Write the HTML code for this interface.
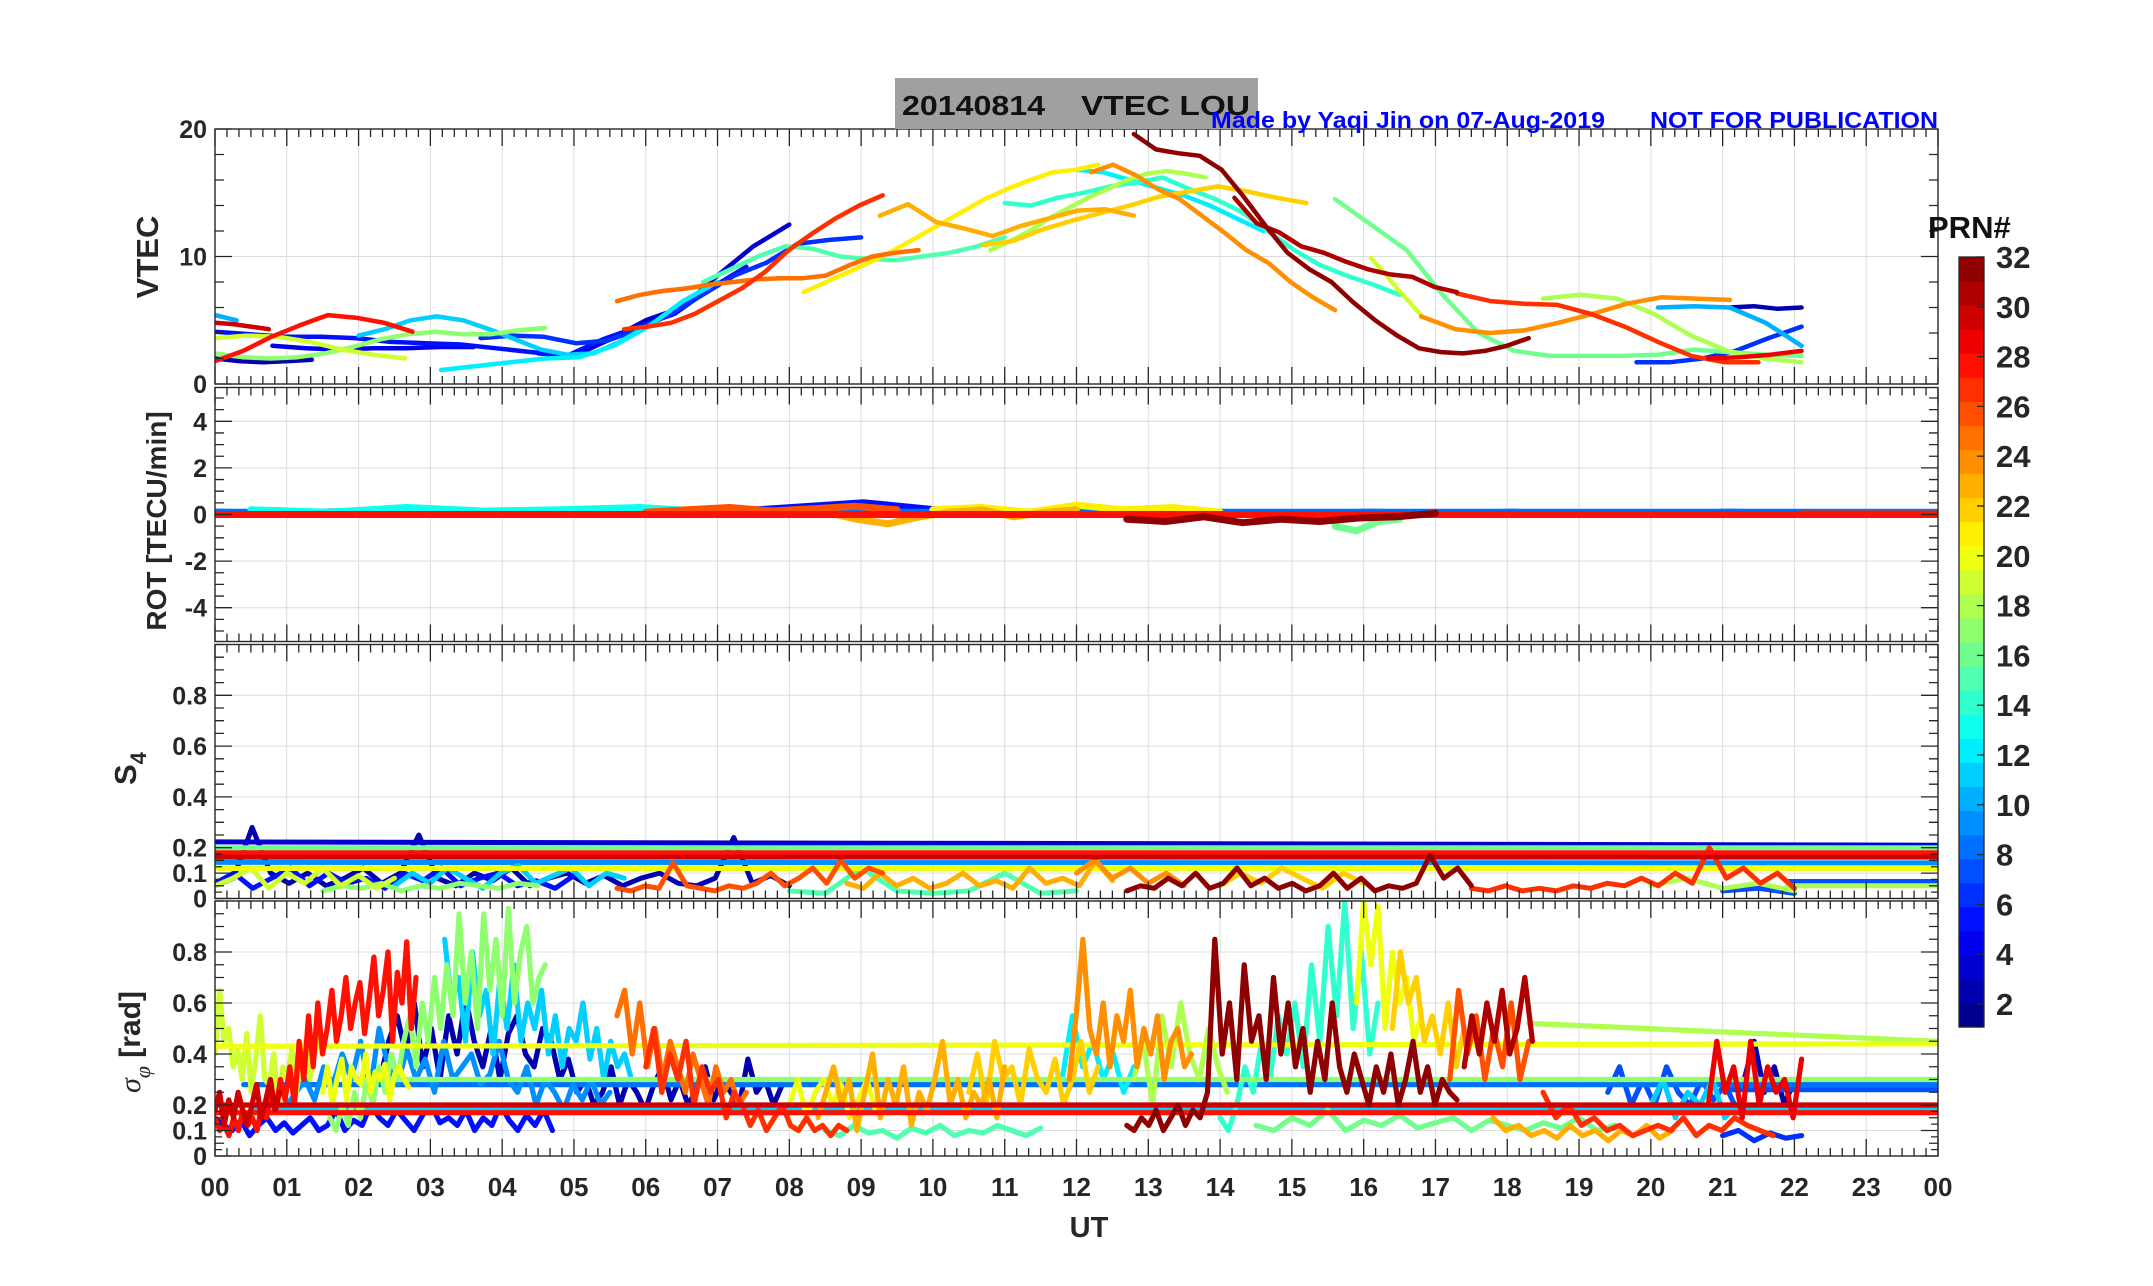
<!DOCTYPE html>
<html><head><meta charset="utf-8"><style>
html,body{margin:0;padding:0;background:#fff;}
svg{display:block;font-family:"Liberation Sans",Arial,sans-serif;}
</style></head><body>
<svg id="chart" width="2153" height="1286" viewBox="0 0 2153 1286" xmlns="http://www.w3.org/2000/svg">
<rect x="0" y="0" width="2153" height="1286" fill="#fff"/>
<g id="grids"></g>
<g id="marks"></g>
<g id="axes"></g>
<rect x="895" y="78" width="363" height="51" fill="#a0a0a0"/>
<text x="902" y="115" font-size="28" font-weight="bold" fill="#111" textLength="143" lengthAdjust="spacingAndGlyphs">20140814</text>
<text x="1081" y="115" font-size="28" font-weight="bold" fill="#111" textLength="169" lengthAdjust="spacingAndGlyphs">VTEC  LOU</text>
<text x="1211" y="128" font-size="23" font-weight="bold" fill="#0000ff" textLength="394" lengthAdjust="spacingAndGlyphs">Made by Yaqi Jin on 07-Aug-2019</text>
<text x="1650" y="128" font-size="23" font-weight="bold" fill="#0000ff" textLength="288" lengthAdjust="spacingAndGlyphs">NOT FOR PUBLICATION</text>
<text transform="translate(158,257) rotate(-90)" text-anchor="middle" font-size="31" font-weight="bold" fill="#262626">VTEC</text>
<text transform="translate(166,521) rotate(-90)" text-anchor="middle" font-size="28" font-weight="bold" fill="#262626">ROT [TECU/min]</text>
<text transform="translate(136,785) rotate(-90)" font-size="31" font-weight="bold" fill="#262626">S<tspan font-size="22" dy="10">4</tspan></text>
<text transform="translate(140,1093) rotate(-90)" font-size="30" fill="#262626"><tspan font-family="Liberation Serif" font-style="italic">σ</tspan><tspan font-family="Liberation Serif" font-style="italic" font-size="22" dy="10">φ</tspan><tspan dy="-10" font-weight="bold"> [rad]</tspan></text>
<text x="1089" y="1237" text-anchor="middle" font-size="29" font-weight="bold" fill="#262626">UT</text>
<text x="1928" y="238" font-size="31" font-weight="bold" fill="#111">PRN#</text>
<g id="cbar"></g>
</svg>
<script>
// ---------------- DATA ----------------
const vtecPrn = [10,30,5,19,28,17,2,11,12,4,6,3,5,27,25,15,21,23,24,12,14,18,22,32,31,27,16,19,24,18,10,2,6,29];
const vtecStart = [0,0,0,0,0,0,0,2.0,3.15,0.8,3.7,4.5,4.9,5.7,5.6,6.8,8.2,9.26,12.2,12.0,11.0,10.8,10.7,12.8,14.2,17.3,15.6,16.1,16.8,18.5,20.1,21.1,19.8,20.8];
const vtecEnd = [0.3,0.75,4.9,2.65,2.75,4.6,1.35,6.0,7.0,3.6,9.0,8.0,7.4,9.3,9.8,11.0,12.3,12.8,15.6,14.6,16.5,13.8,15.2,18.3,17.3,21.5,22.1,16.8,21.1,22.1,22.1,22.1,22.1,22.1];
const vtecVals = [
 [5.4,5.0],
 [4.8,4.7,4.5,4.3],
 [4.1,3.9,3.7,3.7,3.6,3.3,3.2,3.1,2.8,2.5,2.2],
 [3.6,3.8,3.7,3.3,2.7,2.3,2.0],
 [1.8,2.6,3.7,4.6,5.4,5.2,4.8,4.1],
 [2.4,2.1,2.0,2.1,2.4,2.9,3.5,3.9,4.1,3.9,3.9,4.2,4.4],
 [2.0,1.8,1.7,1.8,1.9],
 [3.8,4.3,5.0,5.3,5.0,4.3,3.5,2.7,2.3,2.4,3.3,4.5],
 [1.1,1.4,1.7,2.0,2.1,3.0,4.5,6.5,8.0],
 [3.0,2.8,2.7,2.8,2.8,2.9,2.9],
 [3.6,3.8,3.7,3.2,3.4,4.3,5.5,7.0,8.5,9.5,11.0,11.3,11.5],
 [2.4,2.2,3.5,5.0,6.0,8.5,10.8,12.5],
 [2.2,3.5,4.5,5.5,7.5,9.2],
 [4.3,4.5,4.8,5.5,6.5,7.5,8.8,10.5,11.8,13.0,14.0,14.8],
 [6.5,7.0,7.3,7.5,7.8,8.0,8.2,8.3,8.3,8.5,9.3,10.0,10.3,10.5],
 [8.0,9.0,10.0,10.8,10.6,10.0,9.8,9.7,10.0,10.3,10.8,11.5],
 [7.2,8.0,8.8,9.6,10.5,11.5,12.5,13.5,14.5,15.3,16.0,16.6,16.8,17.2],
 [13.2,14.1,12.7,12.2,11.6,12.4,13.0,13.6,13.7,13.2],
 [16.6,17.2,16.4,15.3,14.5,13.2,11.9,10.5,9.5,8.0,6.8,5.8],
 [16.8,16.6,16.0,15.4,14.8,14.0,13.0,12.0],
 [14.2,14.0,14.6,15.0,15.5,15.8,16.2,15.3,14.5,13.5,12.0,10.5,9.3,8.5,7.8,7.0],
 [10.5,11.2,12.0,13.0,13.8,14.6,15.3,16.0,16.5,16.7,16.5,16.2],
 [10.9,11.2,12.1,12.8,13.4,14.0,14.7,15.1,15.5,15.1,14.6,14.2],
 [19.6,18.4,18.1,17.9,16.8,14.7,12.4,10.3,9.0,8.0,6.4,5.0,3.8,2.8,2.5,2.4,2.6,3.0,3.6],
 [14.6,12.6,11.9,10.8,10.3,9.6,9.0,8.6,8.4,7.6,7.2],
 [7.1,6.5,6.3,6.2,5.5,4.5,3.3,2.2,1.7,1.7],
 [14.5,12.5,10.5,7.0,4.0,2.6,2.2,2.2,2.2,2.3,2.7,2.5,2.3,2.2],
 [9.9,8.8,7.6,6.5,5.4],
 [5.3,4.3,4.0,4.2,4.8,5.5,6.3,6.8,6.7,6.6],
 [6.7,7.0,6.7,5.5,3.8,2.6,2.0,1.7],
 [6.0,6.1,6.0,4.8,3.0],
 [6.0,6.1,5.9,6.0],
 [1.7,1.7,2.0,2.6,3.6,4.5],
 [2.0,2.1,2.3,2.6]
];
const rotPrn = [28,8,27,5,26,23,21,32,16,13];
const rotStart = [0,0,22.1,0,6.0,8.5,10.0,12.7,15.6,0.5];
const rotEnd = [24,24,24,22.1,9.5,12.0,14.0,17.0,16.5,7.0];
const rotVals = [
 [0,0],
 [0.1,0.1],
 [0.02,0.02],
 [0.1,0.05,0.15,0.0,0.1,0.05,0.2,0.1,0.3,0.5,0.2,0.1,0.05,0.1,0.0,0.05,0.1,0.05,0.1,0.0,0.05,0.1,0.05],
 [0.1,0.2,0.3,0.15,0.25,0.35,0.2],
 [0.1,-0.2,-0.4,-0.1,0.1,0.2,-0.1,0.1,0.2],
 [0.2,0.3,0.1,0.4,0.2,0.3,0.1],
 [-0.2,-0.3,-0.1,-0.35,-0.2,-0.3,-0.15,-0.1,0.05],
 [-0.5,-0.7,-0.3,-0.2],
 [0.2,0.1,0.3,0.15,0.2,0.3,0.1]
];
const s4Prn = [2,3,5,7,9,11,16,17,18,19,20,22,23,24,26,27,28,30,32,15,7,18];
const s4Start = [0,0,0,21.9,0,2.5,0,1.5,21.9,0,0,14.0,8.8,12.0,5.6,17.5,0,0,12.7,8.0,21.0,20.0];
const s4End = [8,24,5,24,24,5.7,24,4.5,24,2.5,24,16.0,12.5,13.5,9.3,22.0,24,24,17.5,12.0,22.0,22.0];
const s4Vals = [
 [0.05,0.08,0.28,0.1,0.06,0.1,0.05,0.08,0.12,0.06,0.1,0.25,0.08,0.05,0.1,0.07,0.12,0.05,0.08,0.1,0.06,0.09,0.05,0.08,0.1,0.06,0.05,0.08,0.24,0.06,0.09,0.05],
 [0.223,0.21],
 [0.06,0.1,0.04,0.08,0.12,0.05,0.1,0.06,0.08,0.04,0.1,0.07,0.12,0.05,0.08,0.1,0.05,0.07,0.04,0.09],
 [0.067,0.067],
 [0.142,0.14],
 [0.05,0.1,0.06,0.12,0.08,0.04,0.1,0.13,0.06,0.09,0.12,0.05,0.1,0.08],
 [0.2,0.2],
 [0.03,0.05,0.04,0.06,0.03,0.05,0.04,0.06,0.05,0.04,0.06,0.05],
 [0.05,0.05],
 [0.05,0.08,0.12,0.04,0.1,0.06,0.12,0.05,0.09,0.04,0.08],
 [0.118,0.118],
 [0.05,0.1,0.06,0.12,0.08,0.04,0.1,0.06],
 [0.06,0.04,0.1,0.05,0.08,0.04,0.06,0.1,0.05,0.07,0.04,0.12,0.06,0.08,0.05,0.15,0.07],
 [0.1,0.15,0.08,0.12,0.06,0.1,0.05],
 [0.04,0.03,0.05,0.04,0.14,0.05,0.04,0.03,0.05,0.04,0.06,0.1,0.05,0.08,0.12,0.06,0.15,0.08,0.12,0.1],
 [0.04,0.03,0.05,0.03,0.04,0.03,0.05,0.04,0.06,0.05,0.08,0.05,0.1,0.06,0.2,0.08,0.12,0.06,0.1,0.04],
 [0.18,0.18],
 [0.163,0.163],
 [0.03,0.05,0.04,0.08,0.05,0.1,0.04,0.06,0.12,0.05,0.08,0.04,0.06,0.03,0.05,0.1,0.04,0.08,0.03,0.05,0.04,0.06,0.17,0.08,0.12,0.05],
 [0.03,0.02,0.12,0.03,0.02,0.03,0.1,0.02,0.03],
 [0.03,0.04,0.02],
 [0.05,0.08,0.04,0.06,0.03]
];
const sigPrn = [19,20,30,28,5,9,2,11,17,25,27,20,23,15,22,12,24,18,32,14,20,22,26,31,16,23,27,7,11,29,2,6,20,17,8,7,30,28,11,18];
const sigStart = [0,1.5,0,0,0,1.0,2.3,3.2,1.6,5.6,6.0,8.0,8.4,8.5,10.5,11.8,11.9,12.8,12.7,14.0,15.9,16.4,17.2,17.4,14.5,17.8,18.5,19.4,20.0,20.8,21.3,21.0,0,2.0,0.4,21.0,0,0,0.5,18.3];
const sigEnd = [1.45,2.7,0.9,2.8,4.7,5.5,7.9,5.8,4.6,7.4,8.8,9.2,11.0,11.5,12.3,12.8,13.6,14.1,17.3,16.2,16.8,17.4,18.3,18.35,19.5,20.3,21.7,21.2,21.2,22.1,22.0,22.1,24,24,24,24,24,24,24,24];
const sigVals = [
 [0.4,0.65,0.45,0.5,0.35,0.42,0.3,0.48,0.25,0.38,0.55,0.3,0.28,0.4,0.2,0.35,0.3,0.42,0.25,0.38,0.45,0.3,0.4,0.47],
 [0.25,0.35,0.2,0.3,0.38,0.22,0.35,0.3,0.28,0.4,0.25,0.33,0.3,0.36,0.22,0.32,0.35,0.3,0.27],
 [0.18,0.25,0.12,0.22,0.15,0.25,0.18,0.12,0.2,0.28,0.15,0.22,0.3,0.18,0.25],
 [0.15,0.1,0.12,0.08,0.15,0.1,0.18,0.12,0.15,0.1,0.2,0.15,0.25,0.18,0.3,0.22,0.35,0.2,0.45,0.3,0.55,0.35,0.6,0.4,0.5,0.65,0.45,0.55,0.7,0.5,0.6,0.68,0.48,0.62,0.78,0.55,0.65,0.8,0.45,0.72,0.6,0.84,0.5,0.7],
 [0.15,0.12,0.1,0.14,0.08,0.12,0.15,0.1,0.13,0.09,0.12,0.15,0.1,0.12,0.18,0.1,0.14,0.12,0.2,0.15,0.12,0.18,0.14,0.1,0.16,0.2,0.13,0.15,0.12,0.18,0.1,0.15,0.12,0.2,0.14,0.1,0.16,0.12,0.18,0.1],
 [0.2,0.25,0.3,0.22,0.35,0.28,0.4,0.3,0.45,0.25,0.5,0.35,0.28,0.42,0.3,0.38,0.25,0.45,0.3,0.35,0.4,0.28,0.32,0.45,0.3,0.25,0.35,0.2,0.3,0.25,0.18,0.28,0.22,0.3,0.2,0.25],
 [0.3,0.45,0.55,0.4,0.6,0.35,0.5,0.3,0.55,0.4,0.62,0.45,0.35,0.5,0.3,0.48,0.55,0.4,0.35,0.5,0.45,0.3,0.38,0.25,0.3,0.2,0.25,0.35,0.2,0.3,0.25,0.18,0.28,0.35,0.22,0.3,0.2,0.26,0.35,0.22,0.3,0.25,0.2,0.38,0.25,0.3,0.2,0.28],
 [0.85,0.6,0.7,0.45,0.8,0.55,0.65,0.4,0.7,0.5,0.75,0.45,0.6,0.5,0.65,0.4,0.55,0.35,0.5,0.45,0.6,0.38,0.5,0.3,0.45,0.35,0.4,0.3],
 [0.15,0.1,0.2,0.12,0.25,0.15,0.3,0.2,0.35,0.25,0.4,0.3,0.45,0.55,0.35,0.6,0.45,0.7,0.5,0.75,0.55,0.95,0.6,0.8,0.5,0.95,0.65,0.85,0.55,0.97,0.6,0.8,0.9,0.6,0.7,0.75],
 [0.55,0.65,0.4,0.6,0.35,0.5,0.3,0.45,0.35,0.25,0.4,0.3,0.2,0.35,0.25,0.3,0.2,0.25],
 [0.35,0.5,0.25,0.4,0.3,0.45,0.2,0.35,0.25,0.3,0.15,0.25,0.2,0.12,0.18,0.1,0.15,0.2,0.12,0.1,0.15,0.1,0.12,0.08,0.12,0.1],
 [0.2,0.3,0.15,0.25,0.3,0.2,0.28,0.15,0.22,0.3,0.18],
 [0.15,0.25,0.35,0.2,0.3,0.1,0.25,0.4,0.15,0.3,0.2,0.35,0.12,0.25,0.18,0.3,0.45,0.2,0.3,0.15,0.25,0.2,0.3,0.15,0.35],
 [0.1,0.08,0.12,0.09,0.1,0.07,0.11,0.09,0.12,0.08,0.1,0.09,0.12,0.1,0.08,0.11],
 [0.25,0.4,0.2,0.45,0.3,0.35,0.2,0.42,0.3,0.25,0.38,0.2,0.3,0.45,0.25,0.35],
 [0.3,0.55,0.35,0.45,0.3,0.4,0.25,0.35],
 [0.3,0.55,0.85,0.5,0.4,0.6,0.35,0.55,0.45,0.65,0.35,0.5,0.4,0.55,0.3,0.45,0.5,0.35,0.4],
 [0.3,0.45,0.2,0.55,0.35,0.6,0.4,0.3,0.5,0.35,0.25],
 [0.12,0.1,0.15,0.12,0.18,0.1,0.15,0.2,0.12,0.18,0.15,0.25,0.85,0.4,0.6,0.3,0.75,0.45,0.55,0.3,0.7,0.4,0.6,0.35,0.5,0.25,0.45,0.3,0.6,0.35,0.25,0.4,0.3,0.2,0.35,0.25,0.4,0.2,0.3,0.45,0.25,0.35,0.2,0.3,0.25,0.22],
 [0.15,0.1,0.2,0.35,0.25,0.45,0.3,0.55,0.4,0.6,0.35,0.75,0.45,0.9,0.55,1.0,0.5,0.8,0.4,0.6],
 [0.6,1.0,0.75,0.98,0.5,0.8,0.6,0.7,0.45,0.55],
 [0.5,0.8,0.6,0.7,0.45,0.55,0.4,0.6,0.35,0.5],
 [0.3,0.65,0.4,0.55,0.3,0.5,0.35,0.6,0.3,0.45],
 [0.35,0.55,0.4,0.6,0.45,0.65,0.4,0.5,0.7,0.45],
 [0.12,0.1,0.15,0.12,0.18,0.1,0.14,0.12,0.16,0.11,0.13,0.15,0.1,0.14,0.12,0.1,0.13,0.11,0.15,0.1,0.12],
 [0.15,0.1,0.12,0.08,0.1,0.07,0.12,0.08,0.1,0.06,0.1,0.08,0.12,0.07,0.1],
 [0.25,0.15,0.2,0.12,0.15,0.1,0.12,0.08,0.1,0.12,0.1,0.15,0.08,0.12,0.1,0.15,0.12,0.1,0.08],
 [0.25,0.35,0.2,0.3,0.2,0.35,0.25,0.2,0.3,0.22,0.28,0.18],
 [0.2,0.3,0.15,0.25,0.2,0.3,0.15,0.2],
 [0.2,0.45,0.25,0.35,0.15,0.45,0.2,0.35,0.25,0.3,0.15,0.38],
 [0.3,0.45,0.25,0.35,0.2,0.3],
 [0.08,0.1,0.06,0.09,0.07,0.08],
 [0.43,0.44],
 [0.3,0.3],
 [0.28,0.28],
 [0.26,0.26],
 [0.2,0.2],
 [0.17,0.17],
 [0.18,0.18],
 [0.52,0.45]
];
const xTickLabels = ["00","01","02","03","04","05","06","07","08","09","10","11","12","13","14","15","16","17","18","19","20","21","22","23","00"];
const vtecTicks = [0,10,20];
const rotTicks = [-4,-2,0,2,4];
const s4Ticks = [0,0.1,0.2,0.4,0.6,0.8];
const sigTicks = [0,0.1,0.2,0.4,0.6,0.8];
const cbarTicks = [2,4,6,8,10,12,14,16,18,20,22,24,26,28,30,32];

// ---------------- LAYOUT ----------------
const NS='http://www.w3.org/2000/svg';
const X0=215, X1=1938;
const xs = h => X0 + h*(X1-X0)/24;
const panels = [
 {name:'vtec', top:129, bot:384, min:0, max:20, ticks:vtecTicks, minor:2, fmt:v=>String(v)},
 {name:'rot', top:387.5, bot:641.5, min:-5.45, max:5.45, ticks:rotTicks, minor:0.5, fmt:v=>String(v)},
 {name:'s4', top:644.5, bot:898.5, min:0, max:1, ticks:s4Ticks, minor:0.05, fmt:v=>String(v)},
 {name:'sigma', top:901, bot:1156, min:0, max:1, ticks:sigTicks, minor:0.05, fmt:v=>String(v)}
];
panels.forEach(p=>{ p.ys = v => p.bot - (v-p.min)/(p.max-p.min)*(p.bot-p.top); });

function jet(i,n){
  const x=(i+0.5)/n;
  const f=t=>Math.max(0,Math.min(1,t));
  const r=f(Math.min(4*x-1.5,-4*x+4.5)), g=f(Math.min(4*x-0.5,-4*x+3.5)), b=f(Math.min(4*x+0.5,-4*x+2.5));
  return 'rgb('+Math.round(r*255)+','+Math.round(g*255)+','+Math.round(b*255)+')';
}
const prnColor = prn => jet(prn-1,32);

const svg=document.getElementById('chart');
const gGrid=document.getElementById('grids');
const gMarks=document.getElementById('marks');
const gAxes=document.getElementById('axes');
function mk(tag,attrs,parent){const e=document.createElementNS(NS,tag);for(const k in attrs)e.setAttribute(k,attrs[k]);parent.appendChild(e);return e;}

const defs=mk('defs',{},svg);
panels.forEach(p=>{
  const cp=mk('clipPath',{id:'clip-'+p.name},defs);
  mk('rect',{x:X0,y:p.top,width:X1-X0,height:p.bot-p.top},cp);
});

panels.forEach(p=>{
  for(let h=1;h<24;h++){
    const gl=mk('line',{x1:xs(h),x2:xs(h),y1:p.top,y2:p.bot,stroke:'#dcdcdc','stroke-width':1},gGrid);
    
    
  }
  p.ticks.forEach(v=>{
    const gl=mk('line',{x1:X0,x2:X1,y1:p.ys(v),y2:p.ys(v),stroke:'#dcdcdc','stroke-width':1},gGrid);
    
    
  });
  const box=mk('rect',{x:X0,y:p.top,width:X1-X0,height:p.bot-p.top,fill:'none',stroke:'#262626','stroke-width':1.4},gAxes);
  
  
  let d='';
  for(let m=0;m<=144;m++){
    const x=xs(m/6); const L=(m%6===0)?17:8;
    d+='M'+x+' '+p.top+'v'+L+'M'+x+' '+p.bot+'v'+(-L);
  }
  const ystep=p.minor;
  const start=Math.ceil(p.min/ystep-1e-9), end=Math.floor(p.max/ystep+1e-9);
  for(let k=start;k<=end;k++){
    const v=k*ystep; const y=p.ys(v);
    const major=p.ticks.some(t=>Math.abs(t-v)<1e-6); const L=major?17:9;
    d+='M'+X0+' '+y+'h'+L+'M'+X1+' '+y+'h'+(-L);
  }
  if(p.name==='s4'||p.name==='sigma'){
    for(let k=1;k<8;k++){const y=p.ys(k*0.025); if(k%2) d+='M'+X0+' '+y+'h7M'+X1+' '+y+'h-7';}
  }
  const tk=mk('path',{d:d,stroke:'#262626','stroke-width':1.3,fill:'none'},gAxes);
  
  
  p.ticks.forEach(v=>{
    const t=mk('text',{x:X0-8,y:p.ys(v)+9,'text-anchor':'end','font-size':25,'font-weight':'bold',fill:'#262626'},gAxes);
    t.textContent=p.fmt(v);
    
    
  });
});
xTickLabels.forEach((lab,i)=>{
  const t=mk('text',{x:xs(i),y:1196,'text-anchor':'middle','font-size':26,'font-weight':'bold',fill:'#262626'},gAxes);
  t.textContent=lab;
  
  
});

function drawSeries(p, prns, starts, ends, vals, width){
  const g=mk('g',{'clip-path':'url(#clip-'+p.name+')'},gMarks);
  
  
  const order=prns.map((v,i)=>i).sort((a,b)=>prns[a]-prns[b]);
  order.forEach(i=>{
    const v=vals[i], n=v.length;
    let d='';
    v.forEach((y,j)=>{
      const h=starts[i]+(ends[i]-starts[i])*(n>1?j/(n-1):0);
      d+=(j?'L':'M')+xs(h).toFixed(1)+' '+p.ys(y).toFixed(1);
    });
    const path=mk('path',{d:d,fill:'none',stroke:prnColor(prns[i]),'stroke-width':width,'stroke-linejoin':'round','stroke-linecap':'round'},g);
    
    
  });
}
drawSeries(panels[0], vtecPrn, vtecStart, vtecEnd, vtecVals, 4.5);
drawSeries(panels[1], rotPrn, rotStart, rotEnd, rotVals, 7);
drawSeries(panels[2], s4Prn, s4Start, s4End, s4Vals, 5);
drawSeries(panels[3], sigPrn, sigStart, sigEnd, sigVals, 5.2);

// colorbar
const cb=document.getElementById('cbar');
const CBX=1959, CBW=25, CBT=257, CBB=1027, PRN_PX=24.9;
const cy = v => CBT + (32-v)*PRN_PX;
for(let k=1;k<=32;k++){
  const bh=(CBB-CBT)/32;
  const r=mk('rect',{x:CBX,y:CBB-k*bh,width:CBW,height:bh+0.6,fill:prnColor(k)},cb);
  
  
}
const cbBox=mk('rect',{x:CBX,y:CBT,width:CBW,height:CBB-CBT,fill:'none',stroke:'#262626','stroke-width':1.3},cb);


cbarTicks.forEach(v=>{
  const l=mk('line',{x1:CBX+CBW-7,x2:CBX+CBW,y1:cy(v),y2:cy(v),stroke:'#262626','stroke-width':1.3},cb);
  
  
  const t=mk('text',{x:1996,y:cy(v)+11,'font-size':31,'font-weight':'bold',fill:'#262626'},cb);
  t.textContent=String(v);
  
  
});
</script>
</body></html>
